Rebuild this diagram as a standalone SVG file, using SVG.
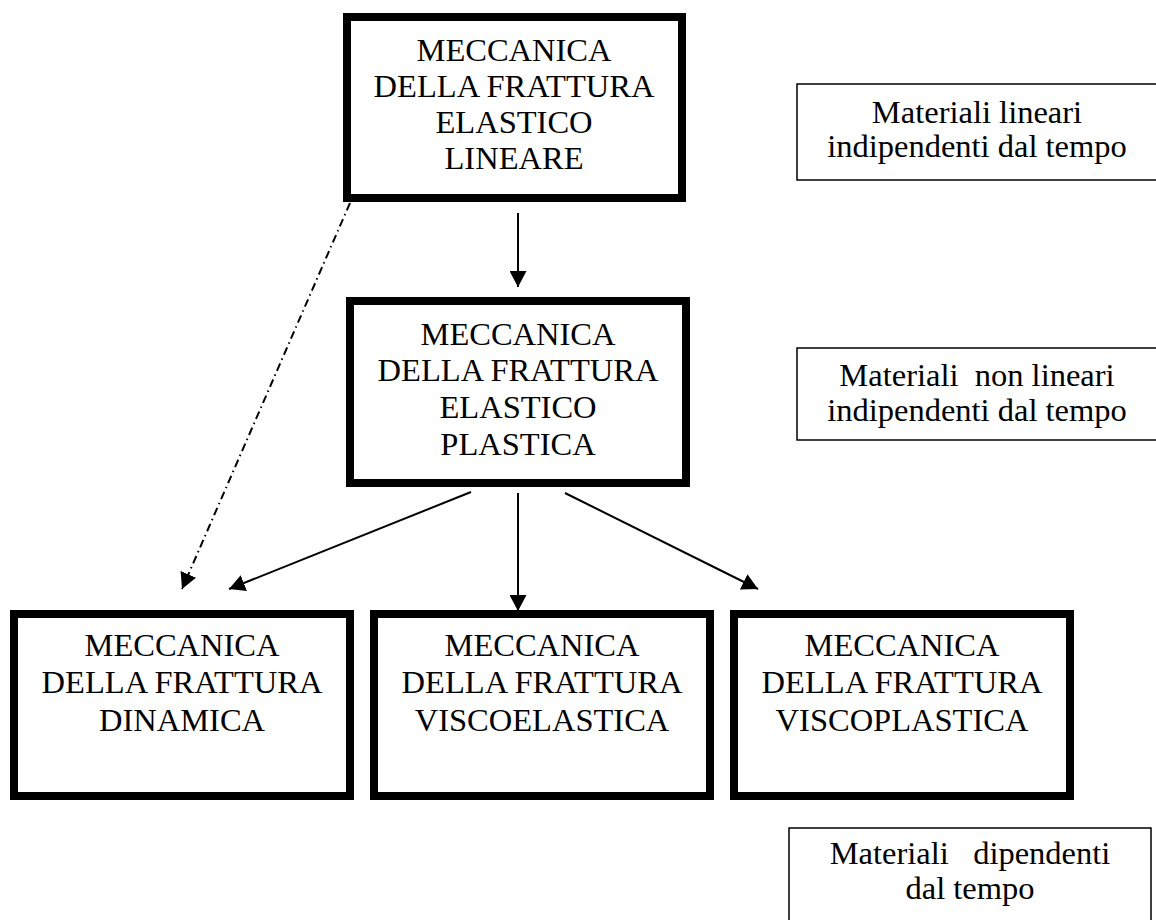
<svg xmlns="http://www.w3.org/2000/svg" width="1156" height="920" viewBox="0 0 1156 920">
<style>
.node{fill:#fff;stroke:#000;stroke-width:8}
.lab{fill:#fff;stroke:#000;stroke-width:1.5}
text{font-family:"Liberation Serif","Times New Roman",serif;font-size:32.5px;fill:#000;text-anchor:middle}
.c{stroke:#000;stroke-width:2;fill:none}
.dd{stroke-dasharray:8 4 1.5 4}
</style>
<defs>
<marker id="ah" viewBox="0 0 16 17" refX="16" refY="8.5" markerWidth="16" markerHeight="17" markerUnits="userSpaceOnUse" orient="auto">
<path d="M0,0 L16,8.5 L0,17 z" fill="#000"/>
</marker>
</defs>
<rect width="1156" height="920" fill="#fff"/>
<g id="connectors">
<line class="c" x1="518" y1="213" x2="518" y2="287" marker-end="url(#ah)"/>
<line class="c dd" x1="350" y1="203" x2="182" y2="589" marker-end="url(#ah)"/>
<line class="c" x1="471" y1="492" x2="229" y2="589" marker-end="url(#ah)"/>
<line class="c" x1="518" y1="493" x2="518" y2="611" marker-end="url(#ah)"/>
<line class="c" x1="565" y1="493" x2="758" y2="589" marker-end="url(#ah)"/>
</g>
<g id="n-lineare">
<rect class="node" x="347" y="17" width="335" height="181"/>
<text x="514" y="61">MECCANICA</text>
<text x="514" y="97">DELLA FRATTURA</text>
<text x="514" y="133">ELASTICO</text>
<text x="514" y="169">LINEARE</text>
</g>
<g id="n-plastica">
<rect class="node" x="350" y="301" width="336" height="182"/>
<text x="518" y="345">MECCANICA</text>
<text x="518" y="381">DELLA FRATTURA</text>
<text x="518" y="418">ELASTICO</text>
<text x="518" y="455">PLASTICA</text>
</g>
<g id="n-dinamica">
<rect class="node" x="14" y="614" width="336" height="182"/>
<text x="182" y="656">MECCANICA</text>
<text x="182" y="693">DELLA FRATTURA</text>
<text x="182" y="731">DINAMICA</text>
</g>
<g id="n-viscoelastica">
<rect class="node" x="374" y="614" width="336" height="182"/>
<text x="542" y="656">MECCANICA</text>
<text x="542" y="693">DELLA FRATTURA</text>
<text x="542" y="731">VISCOELASTICA</text>
</g>
<g id="n-viscoplastica">
<rect class="node" x="734" y="614" width="336" height="182"/>
<text x="902" y="656">MECCANICA</text>
<text x="902" y="693">DELLA FRATTURA</text>
<text x="902" y="731">VISCOPLASTICA</text>
</g>
<g id="l-lineari">
<rect class="lab" x="797" y="84" width="370" height="96"/>
<text x="977" y="123">Materiali lineari</text>
<text x="977" y="157">indipendenti dal tempo</text>
</g>
<g id="l-nonlineari">
<rect class="lab" x="797" y="348" width="370" height="92"/>
<text x="977" y="386" xml:space="preserve">Materiali  non lineari</text>
<text x="977" y="421">indipendenti dal tempo</text>
</g>
<g id="l-dipendenti">
<rect class="lab" x="789" y="828" width="362" height="110"/>
<text x="970" y="864" xml:space="preserve">Materiali   dipendenti</text>
<text x="970" y="899">dal tempo</text>
</g>
</svg>
